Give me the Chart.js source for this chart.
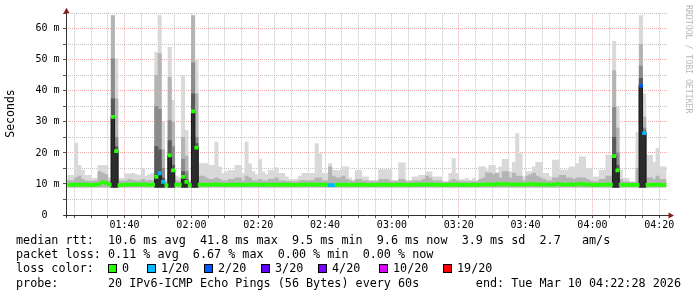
<!DOCTYPE html>
<html>
<head>
<meta charset="utf-8">
<script src="https://cdn.jsdelivr.net/npm/chart.js@4.4.1/dist/chart.umd.min.js"></script>
<style>
  html, body { margin: 0; padding: 0; background: #fff; }
</style>
</head>
<body>
<canvas id="smoke" width="697" height="297"></canvas>
<script>
// smokeping graph, last 3 hours, one column per minute (20 pings each)
const startTime = '01:22:28';
const firstSampleStart = '01:23:00';
const timeLabels = ['01:40', '02:00', '02:20', '02:40', '03:00', '03:20', '03:40', '04:00', '04:20'];
const yTickLabels = ['0  ', '10 m', '20 m', '30 m', '40 m', '50 m', '60 m'];
const yMax = 65;
const smokeFloor = 9.0;

// median rtt per minute (ms)
const medianMs = [
  9.8, 9.7, 9.8, 9.8, 9.9, 9.8, 9.7, 9.7, 9.8, 10.0,
  10.6, 10.3, 9.8, 31.6, 20.6, 9.6, 9.7, 9.8, 9.8, 9.9,
  9.8, 9.8, 9.9, 9.8, 9.7, 9.8, 12.3, 13.4, 10.7, 9.6,
  19.2, 14.4, 9.8, 9.8, 12.3, 10.7, 9.6, 33.4, 21.7, 9.8,
  9.8, 9.7, 9.8, 9.8, 9.9, 9.8, 9.7, 9.7, 9.8, 9.8,
  9.8, 9.8, 9.7, 9.8, 9.8, 9.9, 9.8, 9.8, 9.7, 9.8,
  9.8, 9.8, 9.8, 9.7, 9.8, 9.8, 9.8, 9.7, 9.7, 9.8,
  9.8, 9.8, 9.9, 9.8, 9.8, 9.8, 9.8, 9.7, 9.6, 9.6,
  9.8, 9.8, 9.8, 9.8, 9.7, 9.7, 9.8, 9.8, 9.8, 9.7,
  9.7, 9.7, 9.8, 9.8, 9.8, 9.8, 9.7, 9.7, 9.8, 9.8,
  9.8, 9.7, 9.7, 9.8, 9.8, 9.8, 9.8, 9.9, 9.8, 9.8,
  9.8, 9.7, 9.7, 9.7, 9.8, 9.8, 9.8, 9.7, 9.7, 9.7,
  9.7, 9.8, 9.7, 9.8, 9.8, 9.9, 9.9, 9.8, 10.0, 9.9,
  9.9, 10.0, 9.8, 9.9, 9.8, 9.9, 9.8, 9.9, 10.0, 9.9,
  9.8, 9.9, 9.8, 9.8, 9.8, 9.8, 10.0, 9.9, 9.8, 9.8,
  9.9, 9.8, 9.9, 10.1, 9.9, 9.8, 9.8, 9.7, 9.7, 9.8,
  9.8, 9.8, 9.8, 19.0, 14.4, 9.8, 9.7, 9.7, 9.7, 9.7,
  9.7, 41.7, 26.4, 9.7, 9.7, 9.8, 9.8, 9.7, 9.7
];

// outer smoke (slowest pings) top per minute (ms)
const smokeLight = [
  12.8, 12.8, 23.2, 16.0, 14.4, 12.8, 12.8, 11.8, 11.8, 16.0,
  16.0, 16.0, 12.0, 64.2, 50.3, 11.8, 11.8, 13.3, 13.3, 13.4,
  13.0, 12.8, 15.0, 12.5, 13.0, 13.4, 52.4, 64.2, 29.9, 11.5,
  54.0, 36.9, 12.5, 12.0, 44.9, 27.3, 11.0, 64.2, 49.7, 16.6,
  16.6, 16.6, 16.0, 16.0, 23.5, 15.5, 13.3, 14.0, 14.4, 14.4,
  16.0, 16.0, 13.4, 23.5, 16.5, 14.0, 13.0, 18.0, 13.9, 13.0,
  14.4, 14.4, 15.2, 13.4, 13.4, 12.3, 11.5, 11.5, 11.5, 12.5,
  13.4, 13.4, 13.4, 13.4, 23.0, 19.8, 13.4, 13.4, 16.6, 14.4,
  14.4, 14.4, 15.5, 15.5, 12.0, 11.2, 14.4, 14.4, 12.3, 12.3,
  11.2, 11.2, 11.2, 14.6, 14.6, 14.6, 14.6, 11.2, 11.2, 16.8,
  16.8, 11.2, 11.2, 12.3, 12.3, 12.8, 12.8, 13.9, 13.9, 12.3,
  12.3, 12.3, 10.7, 10.7, 13.4, 18.2, 13.4, 11.5, 11.5, 11.8,
  11.2, 11.8, 11.2, 15.5, 15.5, 14.5, 16.0, 16.0, 13.4, 15.5,
  17.9, 17.9, 14.0, 17.0, 26.2, 19.8, 12.3, 14.0, 14.0, 15.5,
  17.0, 17.0, 13.4, 13.4, 12.3, 17.7, 17.7, 14.5, 14.5, 14.5,
  15.5, 15.5, 16.6, 18.7, 18.7, 15.0, 15.0, 12.3, 12.3, 14.5,
  14.5, 19.3, 19.3, 55.9, 34.7, 14.5, 11.8, 11.8, 10.7, 10.7,
  26.7, 64.2, 39.0, 19.2, 19.2, 17.0, 21.4, 15.5, 15.5
];

// second smoke band top per minute (ms)
const smokeMid = [
  11.2, 11.0, 12.0, 12.5, 11.5, 11.0, 10.9, 10.9, 11.0, 14.0,
  13.5, 13.0, 11.0, 64.2, 37.4, 10.9, 10.9, 11.0, 11.5, 11.2,
  11.0, 11.0, 11.5, 11.0, 11.2, 11.0, 45.0, 52.0, 21.0, 10.5,
  44.4, 30.0, 11.0, 10.8, 25.0, 19.0, 10.5, 64.2, 39.0, 12.5,
  12.5, 12.0, 11.5, 11.5, 12.0, 11.5, 11.0, 11.0, 11.5, 11.5,
  12.0, 12.0, 11.0, 12.5, 12.0, 11.0, 11.0, 11.5, 11.0, 11.0,
  11.5, 11.5, 12.0, 11.0, 11.0, 10.8, 10.8, 10.8, 10.8, 11.0,
  11.2, 11.0, 11.0, 11.2, 12.0, 12.0, 11.0, 11.0, 15.5, 12.5,
  12.0, 12.0, 12.5, 11.5, 11.0, 10.8, 11.5, 11.5, 11.0, 11.0,
  10.8, 10.8, 10.8, 11.5, 11.5, 11.5, 11.0, 10.8, 10.8, 11.5,
  11.5, 10.8, 10.8, 11.0, 11.0, 11.0, 11.5, 12.5, 12.0, 11.0,
  11.0, 11.0, 10.6, 10.6, 11.0, 11.5, 11.0, 10.8, 10.8, 10.8,
  10.8, 10.8, 10.8, 11.5, 12.0, 13.5, 13.5, 13.0, 13.5, 12.0,
  14.0, 14.0, 12.0, 13.5, 12.5, 12.5, 11.0, 12.5, 13.0, 13.5,
  12.5, 12.0, 11.5, 11.0, 11.0, 12.0, 12.0, 12.8, 12.8, 12.0,
  12.0, 11.5, 12.0, 12.0, 12.0, 11.5, 11.0, 10.8, 10.8, 11.5,
  11.5, 12.5, 12.5, 46.5, 28.0, 11.5, 10.8, 10.8, 10.5, 10.5,
  15.0, 55.0, 31.5, 12.0, 12.0, 11.5, 12.5, 11.5, 11.5
];

// inner (darker) smoke bands, only where the spread is wide
const spikeCols = [13, 14, 26, 27, 28, 30, 31, 34, 35, 37, 38, 163, 164, 171, 172];
const spikeS3 = [50.3, 25.0, 35.0, 34.0, 15.0, 30.4, 22.0, 18.0, 14.0, 49.0, 25.0, 34.7, 20.0, 48.0, 28.0];
const spikeS4 = [37.4, 22.0, 22.0, 21.0, 12.0, 24.0, 16.0, 14.0, 11.5, 39.0, 23.0, 25.0, 16.0, 44.0, 27.0];
const spikeS5 = [31.6, 20.6, 12.3, 13.4, 10.7, 19.2, 14.4, 12.3, 10.7, 33.4, 21.7, 19.0, 14.4, 41.7, 26.4];

// minutes with packet loss (lost pings out of 20)
const lossCols = [27, 28, 78, 79, 171, 172];
const lossCount = [1, 1, 1, 1, 2, 1];

const lossSteps = [0, 1, 2, 3, 4, 10, 19];
const lossLabels = ['0', '1/20', '2/20', '3/20', '4/20', '10/20', '19/20'];
const lossColors = ['#26ff00', '#00b8ff', '#0059ff', '#5e00ff', '#7e00ff', '#dd00ff', '#ff0000'];

const legendLines = [
  'median rtt:  10.6 ms avg  41.8 ms max  9.5 ms min  9.6 ms now  3.9 ms sd  2.7   am/s',
  'packet loss: 0.11 % avg  6.67 % max  0.00 % min  0.00 % now',
  'loss color:',
  'probe:       20 IPv6-ICMP Echo Pings (56 Bytes) every 60s        end: Tue Mar 10 04:22:28 2026'
];

const toMin = t => {
  const p = t.split(':').map(Number);
  return p[0] * 60 + p[1] + (p[2] || 0) / 60;
};
const t0 = toMin(startTime);
const colX = k => toMin(firstSampleStart) - t0 + k + 0.5;
const majorX = timeLabels.map(l => toMin(l) - t0);
const xTicks = [];
for (let v = majorX[0] % 5; v <= 180; v += 5) xTicks.push(v);
const yTicks = [];
for (let i = 0; i * 2.5 <= yMax; i++) yTicks.push(i * 2.5);

const isMajorX = v => majorX.some(m => Math.abs(m - v) < 0.01);
const xLabel = v => {
  const i = majorX.findIndex(m => Math.abs(m - v) < 0.01);
  return i < 0 ? '' : timeLabels[i];
};

const lossColor = k => {
  const j = lossCols.indexOf(k);
  const n = j < 0 ? 0 : lossCount[j];
  let c = lossColors[0];
  lossSteps.forEach((s, i) => { if (n >= s) c = lossColors[i]; });
  return c;
};

const allCols = medianMs.map((_, k) => k);
const smokeShades = ['#d9d9d9', '#b4b4b4', '#8c8c8c', '#5a5a5a', '#2c2c2c'];

function smokeSet(cols, tops, color, order) {
  return {
    type: 'bar',
    data: cols.map((k, i) => ({ x: colX(k), y: [smokeFloor, tops[i]] })),
    backgroundColor: color,
    borderWidth: 0,
    grouped: false,
    barPercentage: 1,
    categoryPercentage: 1,
    order: order
  };
}

const gridMinor = '#c4c4c4';
const gridMajor = '#eeaaaa';
const monoFont = '"DejaVu Sans Mono", "Liberation Mono", monospace';

const decor = {
  id: 'decor',
  beforeDraw(chart) {
    const ctx = chart.ctx;
    ctx.save();
    ctx.fillStyle = '#fff';
    ctx.fillRect(0, 0, chart.width, chart.height);
    ctx.restore();
  },
  afterDraw(chart) {
    const ctx = chart.ctx;
    const a = chart.chartArea;
    ctx.save();

    // axes
    ctx.strokeStyle = '#303030';
    ctx.lineWidth = 1;
    ctx.beginPath();
    ctx.moveTo(a.left - 2, a.bottom + 0.5);
    ctx.lineTo(a.right + 3, a.bottom + 0.5);
    ctx.moveTo(a.left + 0.5, a.bottom + 3);
    ctx.lineTo(a.left + 0.5, a.top - 3);
    ctx.stroke();

    ctx.fillStyle = '#8c1b1b';
    ctx.beginPath();
    ctx.moveTo(a.right + 1, a.bottom - 2.5);
    ctx.lineTo(a.right + 1, a.bottom + 3.5);
    ctx.lineTo(a.right + 6.5, a.bottom + 0.5);
    ctx.closePath();
    ctx.fill();
    ctx.beginPath();
    ctx.moveTo(a.left - 2.5, a.top);
    ctx.lineTo(a.left + 3.5, a.top);
    ctx.lineTo(a.left + 0.5, a.top - 5.5);
    ctx.closePath();
    ctx.fill();

    // y title
    ctx.fillStyle = '#000';
    ctx.font = '11.5px ' + monoFont;
    ctx.textAlign = 'center';
    ctx.textBaseline = 'middle';
    ctx.save();
    ctx.translate(11, 113.5);
    ctx.rotate(-Math.PI / 2);
    ctx.fillText('Seconds', 0, 0);
    ctx.restore();

    // watermark
    ctx.save();
    ctx.fillStyle = '#b8b8b8';
    ctx.font = '8.2px ' + monoFont;
    ctx.textAlign = 'left';
    ctx.translate(688, 5);
    ctx.rotate(Math.PI / 2);
    ctx.fillText('RRDTOOL / TOBI OETIKER', 0, 0);
    ctx.restore();

    // legend
    ctx.font = '11.75px ' + monoFont;
    ctx.textAlign = 'left';
    ctx.textBaseline = 'alphabetic';
    ctx.fillStyle = '#000';
    const base = [244, 258.2, 272.4, 286.6];
    legendLines.forEach((line, i) => ctx.fillText(line, 16, base[i]));

    const boxX = [108, 147, 204, 261, 318, 379, 443];
    lossLabels.forEach((lab, i) => {
      ctx.fillStyle = lossColors[i];
      ctx.fillRect(boxX[i], 264.5, 8, 8);
      ctx.strokeStyle = '#000';
      ctx.strokeRect(boxX[i] + 0.5, 264.5, 8, 8);
      ctx.fillStyle = '#000';
      ctx.fillText(lab, boxX[i] + 14, base[2]);
    });

    ctx.restore();
  }
};

new Chart(document.getElementById('smoke'), {
  type: 'bar',
  data: {
    datasets: [
      smokeSet(allCols, smokeLight, smokeShades[0], 10),
      smokeSet(allCols, smokeMid, smokeShades[1], 9),
      smokeSet(spikeCols, spikeS3, smokeShades[2], 8),
      smokeSet(spikeCols, spikeS4, smokeShades[3], 7),
      smokeSet(spikeCols, spikeS5, smokeShades[4], 6),
      {
        type: 'line',
        data: allCols.map(k => ({ x: colX(k), y: medianMs[k] })),
        stepped: 'middle',
        borderColor: '#1c1c1c',
        borderWidth: 1,
        pointRadius: 0,
        order: 2
      },
      {
        type: 'bar',
        data: allCols.map(k => ({ x: colX(k), y: [medianMs[k] - 0.5, medianMs[k] + 0.5] })),
        backgroundColor: allCols.map(k => lossColor(k)),
        borderWidth: 0,
        grouped: false,
        barPercentage: 1,
        categoryPercentage: 1,
        order: 1
      }
    ]
  },
  options: {
    responsive: false,
    animation: false,
    devicePixelRatio: 1,
    events: [],
    layout: { padding: { left: 0, top: 13.2, right: 29.5, bottom: 62 } },
    plugins: { legend: { display: false }, tooltip: { enabled: false } },
    scales: {
      x: {
        type: 'linear',
        min: 0,
        max: 180,
        offset: false,
        z: 1,
        afterBuildTicks: s => { s.ticks = xTicks.map(v => ({ value: v })); },
        afterFit: s => { s.height = 20; },
        grid: {
          offset: false,
          color: c => (c.tick && isMajorX(c.tick.value)) ? gridMajor : gridMinor,
          lineWidth: 1,
          drawTicks: true,
          tickLength: 3,
          tickColor: '#555'
        },
        border: { display: false, dash: [1, 1] },
        ticks: {
          autoSkip: false,
          maxRotation: 0,
          padding: 1,
          color: '#000',
          font: { family: monoFont, size: 10 },
          callback: v => xLabel(v)
        }
      },
      y: {
        min: 0,
        max: yMax,
        z: 1,
        afterBuildTicks: s => { s.ticks = yTicks.map(v => ({ value: v })); },
        afterFit: s => { s.width = 66; },
        grid: {
          color: c => (c.tick && c.tick.value % 10 === 0) ? gridMajor : gridMinor,
          lineWidth: 1,
          drawTicks: true,
          tickLength: 3,
          tickColor: '#555'
        },
        border: { display: false, dash: [1, 1] },
        ticks: {
          padding: 3.5,
          color: '#000',
          font: { family: monoFont, size: 10 },
          callback: v => (v % 10 === 0 ? yTickLabels[v / 10] : '')
        }
      }
    }
  },
  plugins: [decor]
});
</script>
</body>
</html>
